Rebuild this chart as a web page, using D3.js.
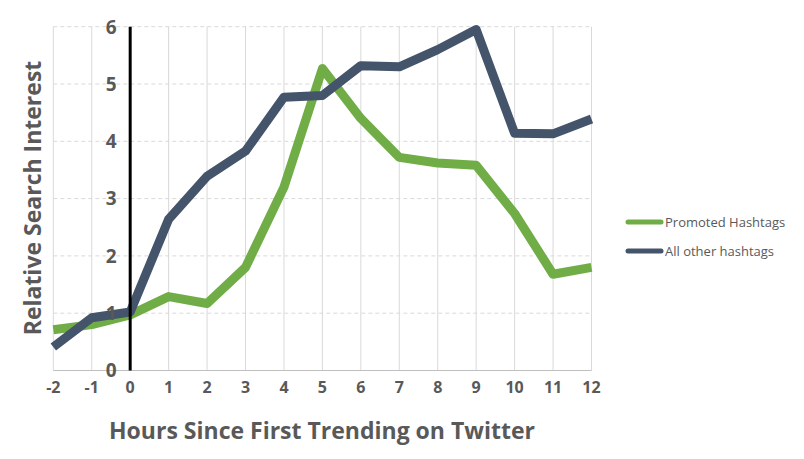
<!DOCTYPE html>
<html><head><meta charset="utf-8">
<script src="https://cdn.jsdelivr.net/npm/d3@7"></script>
<style>body{margin:0;background:#fff}svg{display:block}</style>
</head><body><svg id="c" width="804" height="459"></svg>
<script>
const hours = [-2,-1,0,1,2,3,4,5,6,7,8,9,10,11,12];
const promoted = [0.71,0.8,0.97,1.29,1.17,1.8,3.2,5.27,4.4,3.72,3.62,3.58,2.74,1.68,1.8];
const allOther = [0.41,0.92,1.02,2.64,3.39,3.83,4.77,4.8,5.32,5.3,5.6,5.95,4.14,4.13,4.39];
const yTicks = [0,1,2,3,4,5,6];
const seriesNames = ["Promoted Hashtags","All other hashtags"];
const colors = ["#70AD47","#44546A"];

const svg = d3.select("#c");
const x = d3.scaleLinear().domain([-2,12]).range([53.3,591.5]);
const y = d3.scaleLinear().domain([0,6]).range([370.5,26.7]);
const font = "'Open Sans', 'Noto Sans', sans-serif";

// vertical grid
svg.append("g").selectAll("line").data(hours).join("line")
  .attr("x1",d=>x(d)).attr("x2",d=>x(d)).attr("y1",y(6)).attr("y2",y(0))
  .attr("stroke","#d9d9d9").attr("stroke-width",1);
// horizontal dashed grid
svg.append("g").selectAll("line").data(yTicks.filter(d=>d>0)).join("line")
  .attr("x1",x(-2)).attr("x2",x(12)).attr("y1",d=>y(d)).attr("y2",d=>y(d))
  .attr("stroke","#d9d9d9").attr("stroke-width",1).attr("stroke-dasharray","4,3");
// bottom axis line
svg.append("line").attr("x1",x(-2)).attr("x2",x(12)).attr("y1",y(0)).attr("y2",y(0))
  .attr("stroke","#bfbfbf").attr("stroke-width",1);

// lines
const line = d3.line().x((d,i)=>x(hours[i])).y(d=>y(d));
[promoted, allOther].forEach((s,i)=>{
  svg.append("path").datum(s).attr("d",line).attr("fill","none")
    .attr("stroke",colors[i]).attr("stroke-width",9).attr("stroke-linejoin","round");
});

// vertical axis at 0
svg.append("line").attr("x1",x(0)).attr("x2",x(0)).attr("y1",y(6)).attr("y2",y(0))
  .attr("stroke","#000").attr("stroke-width",3);

// y tick labels
svg.append("g").selectAll("text").data(yTicks).join("text")
  .attr("x",x(0)-19).attr("y",d=>y(d)).attr("dy","0.36em").attr("text-anchor","middle")
  .attr("font-family",font).attr("font-weight","bold").attr("font-size",19)
  .attr("fill","#595959").text(d=>d);
// x tick labels
svg.append("g").selectAll("text").data(hours).join("text")
  .attr("x",d=>x(d)).attr("y",387).attr("dy","0.36em").attr("text-anchor","middle")
  .attr("font-family",font).attr("font-weight","bold").attr("font-size",16)
  .attr("fill","#595959").text(d=>d);

// axis titles
svg.append("text").attr("x",322).attr("y",431).attr("dy","0.36em").attr("text-anchor","middle")
  .attr("font-family",font).attr("font-weight","bold").attr("font-size",23)
  .attr("fill","#595959").text("Hours Since First Trending on Twitter");
svg.append("text").attr("transform","translate(33,198) rotate(-90)").attr("dy","0.36em")
  .attr("text-anchor","middle").attr("font-family",font).attr("font-weight","bold")
  .attr("font-size",23).attr("fill","#595959").text("Relative Search Interest");

// legend
const lg = svg.append("g");
seriesNames.forEach((n,i)=>{
  const ly = 222 + i*29;
  lg.append("line").attr("x1",628).attr("x2",661).attr("y1",ly).attr("y2",ly)
    .attr("stroke",colors[i]).attr("stroke-width",5).attr("stroke-linecap","round");
  lg.append("text").attr("x",665).attr("y",ly).attr("dy","0.36em")
    .attr("font-family",font).attr("font-size",13).attr("fill","#595959").text(n);
});
</script></body></html>
